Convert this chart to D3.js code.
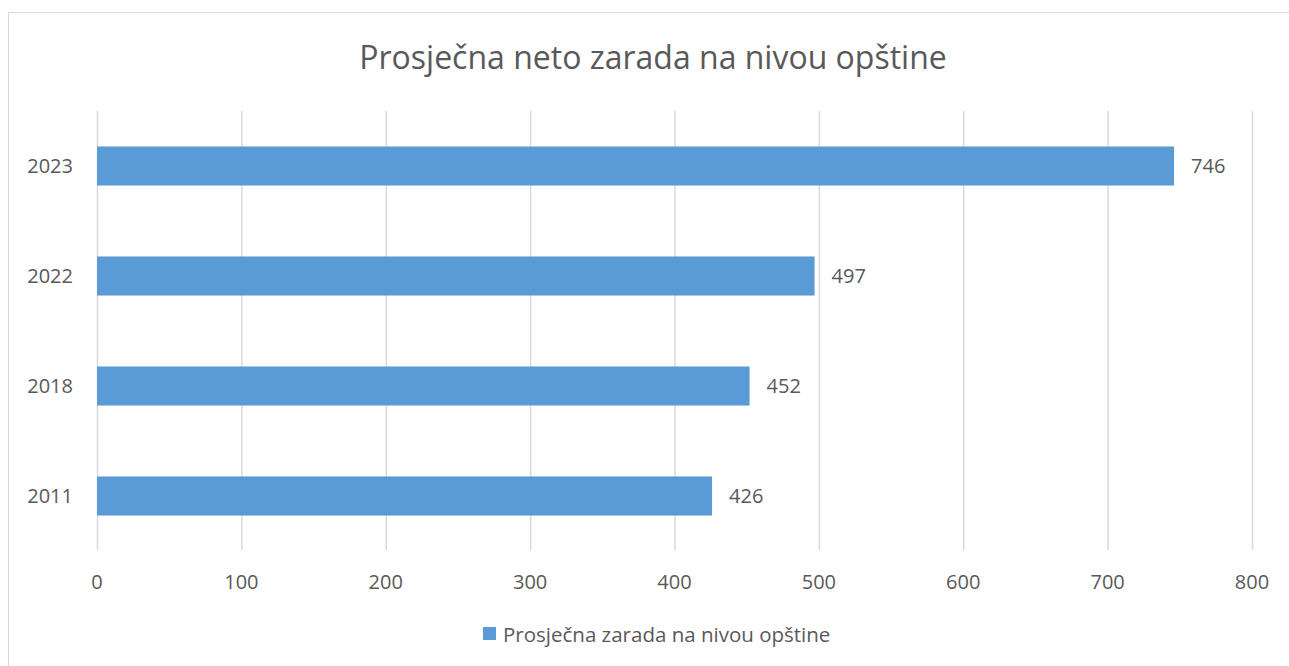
<!DOCTYPE html>
<html><head><meta charset="utf-8">
<script src="https://cdn.jsdelivr.net/npm/d3@7"></script>
<style>body{margin:0;background:#fff}text{font-family:"Open Sans",sans-serif;fill:#595959}</style>
</head><body><svg id="c" width="1289" height="666"></svg>
<script>
const categories = ["2023","2022","2018","2011"];
const values = [746,497,452,426];
const xTicks = [0,100,200,300,400,500,600,700,800];
const title = "Prosječna neto zarada na nivou opštine";
const seriesName = "Prosječna zarada na nivou opštine";

const svg = d3.select("#c");
svg.append("rect").attr("x",8.5).attr("y",12.5).attr("width",1290).attr("height",670)
  .attr("fill","#fff").attr("stroke","#d9d9d9");
const x = d3.scaleLinear().domain([0,800]).range([97,1252]);
const y = d3.scaleBand().domain(categories).range([111,551]).paddingInner(0.645).paddingOuter(0.3225);

svg.append("g").selectAll("line").data(xTicks).join("line")
  .attr("x1",d=>x(d)+0.5).attr("x2",d=>x(d)+0.5).attr("y1",111).attr("y2",550)
  .attr("stroke","#d9d9d9").attr("stroke-width",1.5);

svg.append("g").selectAll("text").data(xTicks).join("text")
  .attr("x",d=>x(d)).attr("y",589).attr("text-anchor","middle").attr("font-size",20).text(d=>d);

svg.append("g").selectAll("rect").data(categories).join("rect")
  .attr("x",x(0)).attr("y",d=>y(d)).attr("width",(d,i)=>x(values[i])-x(0)).attr("height",y.bandwidth())
  .attr("fill","#5b9bd5");

svg.append("g").selectAll("text").data(categories).join("text")
  .attr("x",73).attr("y",d=>y(d)+y.bandwidth()/2).attr("dy","0.35em").attr("text-anchor","end")
  .attr("font-size",20).text(d=>d);

svg.append("g").selectAll("text").data(categories).join("text")
  .attr("x",(d,i)=>x(values[i])+17).attr("y",d=>y(d)+y.bandwidth()/2).attr("dy","0.35em")
  .attr("font-size",20).text((d,i)=>values[i]);

svg.append("text").attr("x",653).attr("y",69).attr("text-anchor","middle").attr("font-size",32).text(title);

svg.append("rect").attr("x",483).attr("y",627).attr("width",13).attr("height",13).attr("fill","#5b9bd5");
svg.append("text").attr("x",503).attr("y",642).attr("font-size",20.5).text(seriesName);
</script></body></html>
